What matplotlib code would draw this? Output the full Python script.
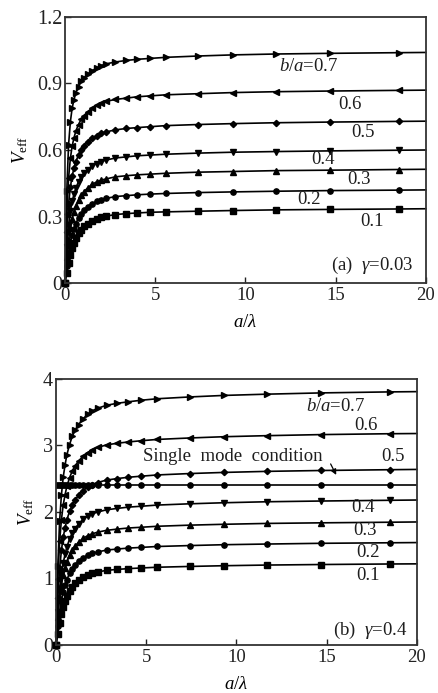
import matplotlib
matplotlib.use('Agg')
import matplotlib.pyplot as plt

plt.rcParams['font.family'] = ['Liberation Serif', 'DejaVu Serif']
plt.rcParams['mathtext.fontset'] = 'custom'
plt.rcParams['mathtext.rm'] = 'Liberation Serif'
plt.rcParams['mathtext.it'] = 'Liberation Serif:italic'

# a/lambda sample points (markers on all but the last one)
x_vals = [0, 0.1, 0.2, 0.3, 0.4, 0.5, 0.6, 0.75, 0.9, 1.05, 1.25, 1.5, 1.75, 2.0,
          2.3, 2.8, 3.4, 4.0, 4.7, 5.6, 7.4, 9.3, 11.7, 14.7, 18.5, 20]

ratios = ['0.1', '0.2', '0.3', '0.4', '0.5', '0.6', '0.7']
markers = ['s', 'o', '^', 'v', 'D', '<', '>']

# (a) gamma = 0.03
top_01 = [0, 0.047, 0.090, 0.127, 0.157, 0.181, 0.201, 0.224, 0.241, 0.255, 0.268, 0.281, 0.290,
          0.296, 0.302, 0.309, 0.313, 0.316, 0.319, 0.321, 0.324, 0.327, 0.330, 0.332, 0.334, 0.335]
top_02 = [0, 0.077, 0.137, 0.182, 0.218, 0.245, 0.268, 0.294, 0.313, 0.328, 0.343, 0.358, 0.368,
          0.376, 0.382, 0.390, 0.394, 0.398, 0.401, 0.404, 0.408, 0.411, 0.414, 0.417, 0.419, 0.420]
top_03 = [0, 0.116, 0.195, 0.250, 0.291, 0.321, 0.346, 0.375, 0.396, 0.412, 0.428, 0.445, 0.456,
          0.464, 0.470, 0.479, 0.484, 0.488, 0.491, 0.495, 0.500, 0.503, 0.507, 0.509, 0.512, 0.513]
top_04 = [0, 0.162, 0.261, 0.324, 0.369, 0.401, 0.428, 0.457, 0.479, 0.495, 0.512, 0.528, 0.539,
          0.548, 0.555, 0.564, 0.569, 0.574, 0.577, 0.581, 0.586, 0.590, 0.593, 0.596, 0.599, 0.600]
top_05 = [0, 0.228, 0.358, 0.433, 0.484, 0.518, 0.548, 0.577, 0.601, 0.618, 0.635, 0.652, 0.664,
          0.675, 0.682, 0.691, 0.697, 0.701, 0.705, 0.710, 0.715, 0.719, 0.723, 0.726, 0.729, 0.730]
top_06 = [0, 0.311, 0.474, 0.563, 0.619, 0.655, 0.685, 0.715, 0.739, 0.755, 0.772, 0.789, 0.802,
          0.812, 0.820, 0.828, 0.834, 0.840, 0.844, 0.849, 0.854, 0.859, 0.863, 0.866, 0.869, 0.870]
top_07 = [0, 0.416, 0.624, 0.728, 0.790, 0.827, 0.858, 0.886, 0.910, 0.926, 0.941, 0.957, 0.970,
          0.981, 0.989, 0.997, 1.004, 1.009, 1.013, 1.018, 1.024, 1.029, 1.033, 1.036, 1.039, 1.040]

# (b) gamma = 0.4
bot_01 = [0, 0.171, 0.329, 0.464, 0.573, 0.659, 0.732, 0.817, 0.878, 0.927, 0.976, 1.025, 1.055,
          1.080, 1.098, 1.122, 1.137, 1.148, 1.158, 1.169, 1.181, 1.192, 1.202, 1.210, 1.218, 1.220]
bot_02 = [0, 0.282, 0.501, 0.667, 0.798, 0.897, 0.982, 1.078, 1.149, 1.204, 1.259, 1.314, 1.349,
          1.378, 1.399, 1.427, 1.443, 1.457, 1.467, 1.481, 1.495, 1.508, 1.518, 1.529, 1.537, 1.540]
bot_03 = [0, 0.420, 0.703, 0.901, 1.049, 1.156, 1.249, 1.352, 1.428, 1.486, 1.545, 1.604, 1.643,
          1.672, 1.696, 1.724, 1.743, 1.759, 1.770, 1.785, 1.802, 1.815, 1.828, 1.837, 1.846, 1.850]
bot_04 = [0, 0.495, 0.828, 1.062, 1.236, 1.363, 1.472, 1.594, 1.683, 1.751, 1.820, 1.890, 1.936,
          1.971, 1.999, 2.033, 2.054, 2.073, 2.086, 2.104, 2.123, 2.139, 2.154, 2.165, 2.176, 2.180]
bot_05 = [0, 0.713, 1.148, 1.426, 1.624, 1.762, 1.881, 2.009, 2.105, 2.178, 2.251, 2.323, 2.373,
          2.413, 2.443, 2.480, 2.503, 2.522, 2.538, 2.557, 2.578, 2.595, 2.611, 2.624, 2.636, 2.640]
bot_06 = [0, 0.995, 1.558, 1.886, 2.108, 2.258, 2.385, 2.515, 2.617, 2.693, 2.767, 2.840, 2.894,
          2.938, 2.970, 3.009, 3.034, 3.053, 3.071, 3.091, 3.113, 3.132, 3.148, 3.164, 3.177, 3.180]
bot_07 = [0, 1.193, 1.867, 2.259, 2.526, 2.705, 2.858, 3.014, 3.136, 3.227, 3.315, 3.402, 3.467,
          3.520, 3.559, 3.605, 3.635, 3.657, 3.680, 3.703, 3.730, 3.753, 3.772, 3.791, 3.806, 3.810]
single_mode_v = 2.405

top_curves = [top_01, top_02, top_03, top_04, top_05, top_06, top_07]
bot_curves = [bot_01, bot_02, bot_03, bot_04, bot_05, bot_06, bot_07]

# label positions (data coords) for each ratio
top_label_pos = [(17.0, 0.277), (13.5, 0.378), (16.3, 0.465), (14.3, 0.558),
                 (16.5, 0.678), (15.8, 0.807), (13.5, 0.976)]
bot_label_pos = [(17.3, 1.04), (17.3, 1.39), (17.1, 1.72), (17.0, 2.06),
                 (18.7, 2.83), (17.2, 3.30), (15.5, 3.58)]

txt_color = '#1e1e1e'
fs = 13.5

fig = plt.figure(figsize=(4.39, 6.93), dpi=100)
ax1 = fig.add_axes([0.148, 0.5916, 0.822, 0.3839])
ax2 = fig.add_axes([0.1276, 0.0693, 0.822, 0.3838])


def style_axes(ax, ymax, yticks, yticklabels):
    ax.set_xlim(0, 20)
    ax.set_ylim(0, ymax)
    ax.set_xticks([0, 5, 10, 15, 20])
    ax.set_yticks(yticks)
    ax.set_yticklabels(yticklabels)
    ax.tick_params(direction='in', length=4, width=1, labelsize=fs, pad=3,
                   top=False, right=False, colors='#222222')
    ax.tick_params(axis='y', labelsize=14.5, pad=2)
    for sp in ax.spines.values():
        sp.set_linewidth(1.3)
        sp.set_color('#333333')
    ax.set_xlabel(r'$a/\lambda$', fontsize=fs, labelpad=7)
    ax.set_ylabel(r'$V_{\rm eff}$', fontsize=fs, labelpad=5)


def draw_curves(ax, curves):
    for vals, mk in zip(curves, markers):
        ms = 3.2 if mk == 'D' else 3.8
        ax.plot(x_vals, vals, color='black', lw=1.2, marker=mk, ms=ms,
                markevery=slice(0, -1), clip_on=False)


# panel (a)
draw_curves(ax1, top_curves)
style_axes(ax1, 1.2, [0, 0.3, 0.6, 0.9, 1.2], ['0', '0.3', '0.6', '0.9', '1.2'])
for r, (tx, ty) in zip(ratios, top_label_pos):
    lab = r'$b/a$=' + r if r == '0.7' else r
    ax1.text(tx, ty, lab, fontsize=fs, ha='center', va='center', color=txt_color)
ax1.text(17.0, 0.081, r'(a)  $\gamma$=0.03', fontsize=fs, ha='center', va='center', color=txt_color)

# panel (b)
draw_curves(ax2, bot_curves)
ax2.plot(x_vals, [single_mode_v] * len(x_vals), color='black', lw=1.2, marker='o', ms=3.8,
         markevery=slice(0, -1))
style_axes(ax2, 4, [0, 1, 2, 3, 4], ['0', '1', '2', '3', '4'])
for r, (tx, ty) in zip(ratios, bot_label_pos):
    lab = r'$b/a$=' + r if r == '0.7' else r
    ax2.text(tx, ty, lab, fontsize=fs, ha='center', va='center', color=txt_color)
ax2.text(9.8, 2.83, 'Single  mode  condition', fontsize=fs, ha='center', va='center', color=txt_color)
ax2.annotate('', xy=(15.6, 2.52), xytext=(15.15, 2.76),
             arrowprops=dict(arrowstyle='-|>', color='black', lw=0.9, mutation_scale=8))
ax2.text(17.4, 0.225, r'(b)  $\gamma$=0.4', fontsize=fs, ha='center', va='center', color=txt_color)

fig.savefig('out.png', dpi=100)
